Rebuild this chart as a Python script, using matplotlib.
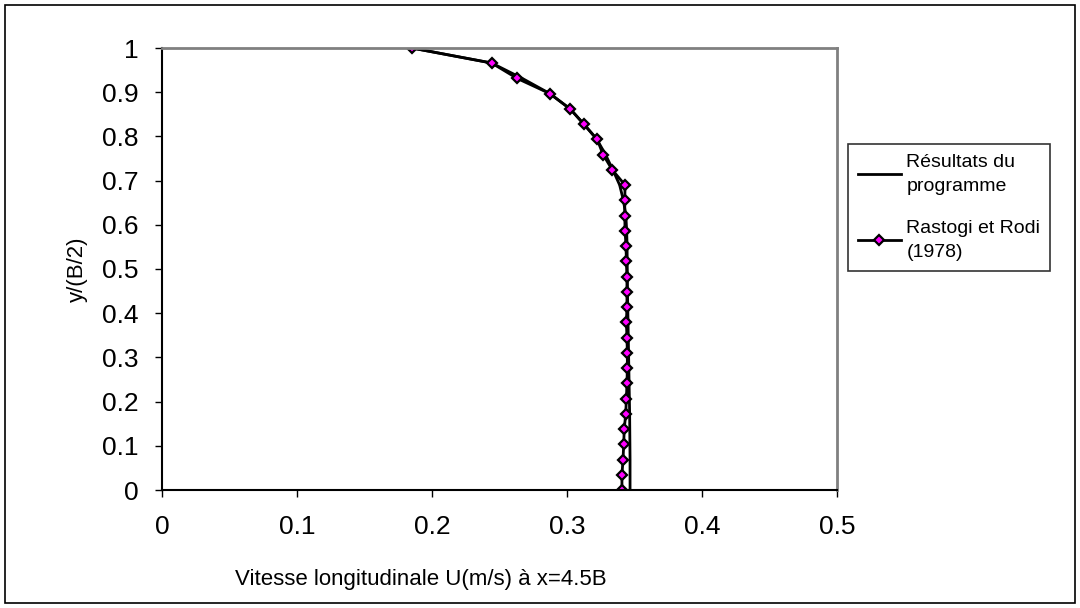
import matplotlib
matplotlib.use("Agg")
import matplotlib.pyplot as plt
from matplotlib.patches import Rectangle

plt.rcParams['font.family'] = ['Liberation Sans', 'DejaVu Sans']

# y/(B/2) positions (same for both series)
Y_POS = [0.0, 0.0345, 0.069, 0.1034, 0.138, 0.172, 0.207, 0.241, 0.276, 0.310,
         0.345, 0.379, 0.414, 0.448, 0.483, 0.517, 0.552, 0.586, 0.621, 0.655,
         0.690, 0.724, 0.759, 0.793, 0.828, 0.862, 0.897, 0.931, 0.966, 1.0]

# Rastogi et Rodi (1978) - measured U (m/s)
U_RASTOGI = [0.3407, 0.3407, 0.3415, 0.3420, 0.3424, 0.3435, 0.3440, 0.3444, 0.3447, 0.3447,
             0.3444, 0.3440, 0.3444, 0.3444, 0.3444, 0.3440, 0.3437, 0.3430, 0.3428, 0.3428,
             0.3430, 0.3336, 0.3267, 0.3224, 0.3124, 0.3024, 0.2872, 0.2632, 0.2442, 0.185]

# Résultats du programme - computed U (m/s)
U_PROG = [0.3467, 0.3467, 0.3467, 0.3466, 0.3465, 0.3464, 0.3462, 0.3460, 0.3458, 0.3456,
          0.3454, 0.3452, 0.3450, 0.3448, 0.3447, 0.3446, 0.3445, 0.3442, 0.3436, 0.3418,
          0.3390, 0.3340, 0.3285, 0.3222, 0.3124, 0.3024, 0.2872, 0.2670, 0.2442, 0.185]

X_TICKS = [0, 0.1, 0.2, 0.3, 0.4, 0.5]
Y_TICKS = [0, 0.1, 0.2, 0.3, 0.4, 0.5, 0.6, 0.7, 0.8, 0.9, 1]

fig = plt.figure(figsize=(10.8, 6.08), dpi=100)
ax = fig.add_axes([162 / 1080, 1 - 490 / 608, 675 / 1080, 442 / 608])

ax.plot(U_PROG, Y_POS, color='black', lw=2, label='Résultats du\nprogramme')
ax.plot(U_RASTOGI, Y_POS, color='black', lw=2, marker='D', markersize=5.5,
        markerfacecolor='#ff00ff', markeredgecolor='black', markeredgewidth=1.6,
        label='Rastogi et Rodi\n(1978)')

ax.set_xlim(0, 0.5)
ax.set_ylim(0, 1)
ax.set_xticks(X_TICKS)
ax.set_yticks(Y_TICKS)
ax.set_xticklabels([f'{v:g}' for v in X_TICKS])
ax.set_yticklabels([f'{v:g}' for v in Y_TICKS])
ax.tick_params(labelsize=19, length=5, width=1, direction='out')
ax.tick_params(axis='y', pad=12)
ax.tick_params(axis='x', pad=13)

for side in ['top', 'right']:
    ax.spines[side].set_color('#808080')
    ax.spines[side].set_linewidth(2)
for side in ['left', 'bottom']:
    ax.spines[side].set_color('black')
    ax.spines[side].set_linewidth(1.5)

ax.set_xlabel('Vitesse longitudinale U(m/s) à x=4.5B', fontsize=16, va='center')
ax.xaxis.set_label_coords((421 - 162) / 675, (490 - 580) / 442)
ax.set_ylabel('y/(B/2)', fontsize=16, labelpad=10)

leg = fig.legend(loc='upper left', bbox_to_anchor=(848 / 1080, 1 - 144 / 608),
                 fontsize=14, frameon=True, fancybox=False, edgecolor='black',
                 handlelength=2.2, handletextpad=0.3, labelspacing=1.3,
                 borderpad=0.5, borderaxespad=0)
leg.get_frame().set_linewidth(1.2)
for t in leg.get_texts():
    t.set_linespacing(1.55)

# outer chart frame
fig.patches.append(Rectangle((5 / 1080, 5 / 608), 1070 / 1080, 598 / 608,
                             transform=fig.transFigure, fill=False,
                             edgecolor='black', linewidth=1.2))

fig.savefig('out.png', dpi=100)
